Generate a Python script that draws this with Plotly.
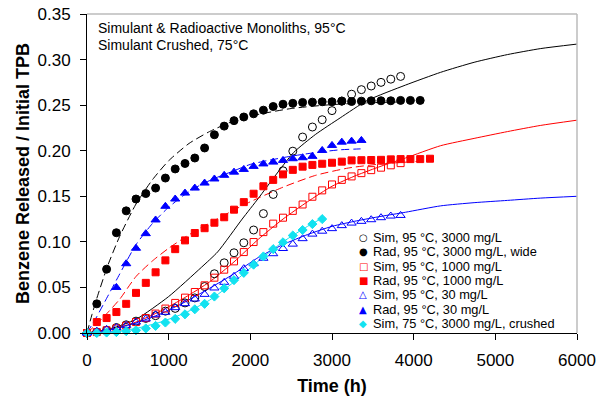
import plotly.graph_objects as go

# ---- measured release data (time in hours, fraction of initial TPB released as benzene) ----
t_sim_3000 = [0, 120, 240, 360, 480, 600, 720, 840, 960, 1080, 1200, 1320, 1440, 1560, 1680, 1800,
              1920, 2040, 2160, 2280, 2400, 2520, 2640, 2760, 2880, 3000, 3120, 3240, 3360, 3480,
              3600, 3720, 3840]
y_sim_3000 = [0, 0.001, 0.003, 0.006, 0.009, 0.013, 0.016, 0.019, 0.024, 0.027, 0.033, 0.0385, 0.051,
              0.065, 0.077, 0.088, 0.099, 0.113, 0.131, 0.152, 0.178, 0.1995, 0.215, 0.226, 0.234,
              0.244, 0.2545, 0.262, 0.267, 0.271, 0.275, 0.2785, 0.2815]

t_rad_3000 = [0, 120, 240, 360, 480, 600, 720, 840, 960, 1080, 1200, 1320, 1440, 1560, 1680, 1800,
              1920, 2040, 2160, 2280, 2400, 2520, 2640, 2760, 2880, 3000, 3120, 3240, 3360, 3480,
              3600, 3720, 3840, 3960, 4080]
y_rad_3000 = [0, 0.032, 0.070, 0.110, 0.134, 0.147, 0.153, 0.159, 0.170, 0.180, 0.186, 0.192, 0.203,
              0.2175, 0.227, 0.233, 0.237, 0.2405, 0.2445, 0.2485, 0.251, 0.252, 0.253, 0.2533,
              0.2537, 0.2537, 0.2544, 0.254, 0.2544, 0.2548, 0.2548, 0.2548, 0.2552, 0.2552, 0.2552]

t_sim_1000 = [0, 120, 240, 360, 480, 600, 720, 840, 960, 1080, 1200, 1320, 1440, 1560, 1680, 1800,
              1920, 2040, 2160, 2280, 2400, 2520, 2640, 2760, 2880, 3000, 3120, 3240, 3360, 3480,
              3600, 3720, 3840]
y_sim_1000 = [0, 0.001, 0.003, 0.005, 0.008, 0.012, 0.0164, 0.0213, 0.0268, 0.033, 0.0388, 0.045,
              0.0523, 0.0607, 0.0695, 0.0786, 0.0888, 0.0998, 0.1107, 0.120, 0.1265, 0.134, 0.141,
              0.1495, 0.1565, 0.163, 0.168, 0.1718, 0.1754, 0.1787, 0.1814, 0.184, 0.1864]

t_rad_1000 = [0, 120, 240, 360, 480, 600, 720, 840, 960, 1080, 1200, 1320, 1440, 1560, 1680, 1800,
              1920, 2040, 2160, 2280, 2400, 2520, 2640, 2760, 2880, 3000, 3120, 3240, 3360, 3480,
              3600, 3720, 3840, 3960, 4080, 4200]
y_rad_1000 = [0, 0.012, 0.0164, 0.023, 0.032, 0.044, 0.055, 0.0666, 0.0797, 0.092, 0.1016, 0.1097,
              0.115, 0.121, 0.127, 0.1353, 0.1436, 0.1528, 0.161, 0.168, 0.174, 0.179, 0.1825,
              0.1844, 0.1857, 0.1868, 0.188, 0.1894, 0.1896, 0.1898, 0.190, 0.1905, 0.1908, 0.1908,
              0.1908, 0.1912]

t_sim_30 = [0, 120, 240, 360, 480, 600, 720, 840, 960, 1080, 1200, 1320, 1440, 1560, 1680, 1800,
            1920, 2040, 2160, 2280, 2400, 2520, 2640, 2760, 2880, 3000, 3120, 3240, 3360, 3480,
            3600, 3720, 3840]
y_sim_30 = [0, 0.002, 0.004, 0.006, 0.0084, 0.012, 0.0154, 0.020, 0.0227, 0.0278, 0.0322, 0.0373,
            0.0424, 0.0494, 0.0556, 0.0622, 0.0706, 0.076, 0.082, 0.087, 0.0927, 0.0975, 0.1035,
            0.1085, 0.1117, 0.1145, 0.1178, 0.1206, 0.1225, 0.1243, 0.1265, 0.1283, 0.129]

t_rad_30 = [0, 360, 480, 600, 720, 840, 960, 1080, 1200, 1320, 1440, 1560, 1680, 1800, 1920, 2040,
            2160, 2280, 2400, 2520, 2640, 2760, 2880, 3000, 3120, 3240, 3360]
y_rad_30 = [0, 0.050, 0.076, 0.093, 0.109, 0.124, 0.139, 0.147, 0.1535, 0.159, 0.1645, 0.169, 0.173,
            0.1765, 0.1795, 0.1828, 0.1855, 0.1875, 0.1894, 0.1912, 0.1923, 0.1938, 0.2003, 0.2058,
            0.2094, 0.2105, 0.2113]

t_sim75_crushed = [0, 120, 240, 360, 480, 600, 720, 840, 960, 1080, 1200, 1320, 1440, 1560, 1680,
                   1800, 1920, 2040, 2160, 2280, 2400, 2520, 2640, 2760, 2880]
y_sim75_crushed = [0, 0, 0.0005, 0.001, 0.002, 0.003, 0.005, 0.0078, 0.0115, 0.0155, 0.0205, 0.026,
                   0.032, 0.040, 0.049, 0.058, 0.066, 0.075, 0.084, 0.092, 0.0995, 0.107, 0.113,
                   0.1195, 0.125]

# ---- model curves ----
fit_sim_3000_t = [0, 300, 600, 1000, 1400, 1600, 1900, 2100, 2300, 2530, 2800, 3100, 3430, 3900,
                  4330, 4740, 5150, 5550, 6000]
fit_sim_3000_y = [0, 0.005, 0.015, 0.040, 0.072, 0.089, 0.125, 0.148, 0.172, 0.198, 0.218, 0.236,
                  0.255, 0.272, 0.286, 0.297, 0.3055, 0.312, 0.317]

fit_rad_3000_t = [0, 60, 120, 250, 400, 600, 800, 1000, 1250, 1500, 1750, 2000, 2500, 3000, 3500, 4080]
fit_rad_3000_y = [0, 0.020, 0.038, 0.073, 0.106, 0.1415, 0.168, 0.189, 0.208, 0.221, 0.231, 0.238,
                  0.2463, 0.2506, 0.2527, 0.254]

fit_sim_1000_t = [0, 300, 600, 900, 1200, 1500, 1800, 2100, 2400, 2700, 3000, 3300, 3600, 3900,
                  4330, 4740, 5150, 5550, 6000]
fit_sim_1000_y = [0, 0.004, 0.012, 0.024, 0.039, 0.056, 0.078, 0.103, 0.125, 0.144, 0.161, 0.173,
                  0.183, 0.192, 0.2055, 0.2135, 0.221, 0.2277, 0.2335]

fit_rad_1000_t = [0, 120, 250, 400, 600, 800, 1000, 1200, 1400, 1600, 1800, 2000, 2400, 2800, 3200,
                  3600, 4000, 4200]
fit_rad_1000_y = [0, 0.010, 0.022, 0.037, 0.062, 0.079, 0.093, 0.105, 0.116, 0.1254, 0.135, 0.144,
                  0.160, 0.173, 0.181, 0.1855, 0.188, 0.189]

fit_sim_30_t = [0, 300, 600, 900, 1200, 1500, 1800, 2100, 2400, 2700, 3000, 3300, 3600, 3900, 4330,
                4740, 5150, 5550, 6000]
fit_sim_30_y = [0, 0.004, 0.011, 0.021, 0.034, 0.049, 0.065, 0.083, 0.097, 0.108, 0.117, 0.123,
                0.128, 0.1325, 0.1395, 0.143, 0.1455, 0.148, 0.150]

fit_rad_30_t = [0, 120, 240, 360, 480, 600, 800, 1000, 1200, 1400, 1600, 1800, 2000, 2200, 2500,
                2800, 3100, 3350]
fit_rad_30_y = [0, 0.018, 0.038, 0.058, 0.078, 0.097, 0.120, 0.138, 0.152, 0.163, 0.171, 0.178,
                0.185, 0.189, 0.194, 0.198, 0.201, 0.202]

fit_sim75_t = [0, 300, 600, 900, 1200, 1500, 1800, 2100, 2400, 2700, 2900]
fit_sim75_y = [0, 0.001, 0.005, 0.012, 0.022, 0.036, 0.056, 0.079, 0.100, 0.117, 0.127]

legend_labels = ["Sim, 95 °C, 3000 mg/L", "Rad, 95 °C, 3000 mg/L, wide", "Sim, 95 °C, 1000 mg/L",
                 "Rad, 95 °C, 1000 mg/L", "Sim, 95 °C, 30 mg/L", "Rad, 95 °C, 30 mg/L",
                 "Sim, 75 °C, 3000 mg/L, crushed"]
legend_glyphs = ["○", "●", "□", "■", "△", "▲", "◆"]

BLACK, RED, BLUE, CYAN = "#000000", "#FF0000", "#0000FF", "#12E2F0"
FONT = "Liberation Sans, Arial, sans-serif"

fig = go.Figure()


def add_fit(t, y, color, dash):
    fig.add_trace(go.Scatter(
        x=t, y=y, mode="lines", showlegend=False, hoverinfo="skip",
        line=dict(color=color, width=1, dash=dash, shape="spline", smoothing=0.6)))


LONG_DASH = "8px,4px"
add_fit(fit_sim_3000_t, fit_sim_3000_y, BLACK, "solid")
add_fit(fit_rad_3000_t, fit_rad_3000_y, BLACK, LONG_DASH)
add_fit(fit_sim_1000_t, fit_sim_1000_y, RED, "solid")
add_fit(fit_rad_1000_t, fit_rad_1000_y, RED, LONG_DASH)
add_fit(fit_sim_30_t, fit_sim_30_y, BLUE, "solid")
add_fit(fit_rad_30_t, fit_rad_30_y, BLUE, LONG_DASH)
add_fit(fit_sim75_t, fit_sim75_y, CYAN, "solid")

series = [
    (t_sim_3000, y_sim_3000, "circle-open", BLACK, 8),
    (t_rad_3000, y_rad_3000, "circle", BLACK, 8),
    (t_sim_1000, y_sim_1000, "square-open", RED, 7),
    (t_rad_1000, y_rad_1000, "square", RED, 7),
    (t_sim_30, y_sim_30, "triangle-up-open", BLUE, 8),
    (t_rad_30, y_rad_30, "triangle-up", BLUE, 8),
    (t_sim75_crushed, y_sim75_crushed, "diamond", CYAN, 7),
]
for (t, y, sym, col, size), name in zip(series, legend_labels):
    fig.add_trace(go.Scatter(
        x=t, y=y, mode="markers", name=name, showlegend=False, cliponaxis=False,
        marker=dict(symbol=sym, color=col, size=size, line=dict(width=1, color=col))))

# plot area in pixels: x 87..577, y 14..333
W, H = 609, 398
L, R, T, B = 87, 32, 14, 65
pw, ph = W - L - R, H - T - B


def px_x(px):
    return (px - L) / pw


def px_y(py):
    return (H - B - py) / ph


annotations = [
    dict(x=px_x(96), y=px_y(27.5), text="Simulant &amp; Radioactive Monoliths, 95°C"),
    dict(x=px_x(96), y=px_y(45), text="Simulant Crushed, 75°C"),
]
for a in annotations:
    a.update(xref="paper", yref="paper", xanchor="left", yanchor="middle", showarrow=False,
             font=dict(family=FONT, size=14, color="#000000"))

# compact key: one glyph and one label per row
glyph_colors = [BLACK, BLACK, RED, RED, BLUE, BLUE, CYAN]
row0, row_step = 237.3, 14.35
for i, (g, c, lab) in enumerate(zip(legend_glyphs, glyph_colors, legend_labels)):
    yy = px_y(row0 + i * row_step)
    annotations.append(dict(x=px_x(363), y=yy, xref="paper", yref="paper", xanchor="center",
                            yanchor="middle", showarrow=False, text=g,
                            font=dict(family="DejaVu Sans", size=10, color=c)))
    annotations.append(dict(x=px_x(370.5), y=yy, xref="paper", yref="paper", xanchor="left",
                            yanchor="middle", showarrow=False, text=lab,
                            font=dict(family=FONT, size=12.8, color="#000000")))

axis_common = dict(showgrid=False, zeroline=False, showline=True, linecolor="#000000", linewidth=1,
                   ticks="outside", ticklen=6, tickcolor="#000000", tickwidth=1, automargin=False,
                   tickfont=dict(family=FONT, size=17, color="#000000"))

fig.update_layout(
    width=W, height=H,
    margin=dict(l=L, r=R, t=T, b=B, pad=0),
    paper_bgcolor="white", plot_bgcolor="white",
    showlegend=False,
    xaxis=dict(range=[0, 6000], tick0=0, dtick=1000, ticklabelstandoff=6,
               title=dict(text="<b>Time (h)</b>", standoff=9,
                          font=dict(family=FONT, size=18, color="#000000")),
               **axis_common),
    yaxis=dict(range=[0, 0.35], tick0=0, dtick=0.05, tickformat=".2f", ticklabelstandoff=6,
               title=dict(text="<b>Benzene Released / Initial TPB</b>", standoff=3,
                          font=dict(family=FONT, size=18, color="#000000")),
               **axis_common),
    annotations=annotations,
    shapes=[
        dict(type="line", xref="paper", yref="paper", x0=0, x1=1, y0=1, y1=1,
             line=dict(color="#BBBBBB", width=1.5)),
        dict(type="line", xref="paper", yref="paper", x0=1, x1=1, y0=0, y1=1,
             line=dict(color="#BBBBBB", width=1.5)),
    ],
)

fig.write_html("out.html")
